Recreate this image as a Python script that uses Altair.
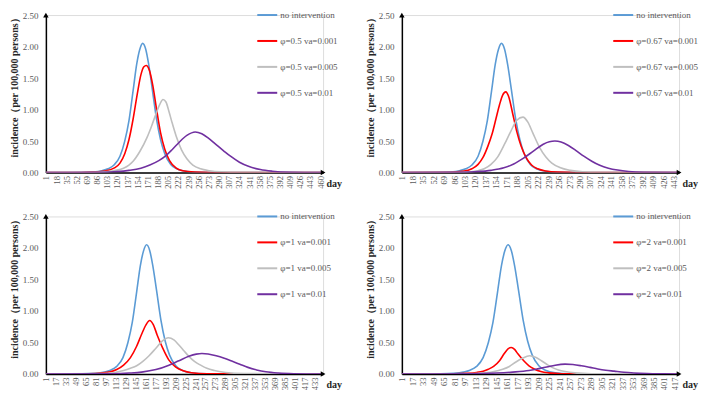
import altair as alt
import pandas as pd

# ---------------- data ----------------
# shared "no intervention" curve
blue_days = [1, 40, 60, 80, 95, 105, 115, 125, 133, 140, 147, 153, 158, 163, 168, 173, 179, 186, 193, 200, 210, 220, 235, 260, 300, 470]
blue_vals = [0, 0.0005, 0.002, 0.01, 0.03, 0.06, 0.12, 0.26, 0.5, 0.82, 1.3, 1.72, 1.95, 2.05, 1.96, 1.72, 1.33, 0.86, 0.52, 0.3, 0.13, 0.06, 0.02, 0.004, 0, 0]

# panel 1: phi = 0.5
p1_red_days = [1, 60, 80, 100, 115, 125, 133, 140, 147, 154, 160, 165, 169, 174, 180, 186, 193, 200, 208, 218, 230, 250, 280, 470]
p1_red_vals = [0, 0.002, 0.008, 0.025, 0.07, 0.15, 0.3, 0.52, 0.85, 1.25, 1.55, 1.68, 1.70, 1.63, 1.38, 1.02, 0.63, 0.37, 0.19, 0.08, 0.03, 0.008, 0.001, 0]
p1_gray_days = [1, 80, 104, 118, 131, 140, 147, 158, 170, 178, 186, 192, 197, 202, 207, 212, 219, 228, 237, 247, 260, 275, 295, 330, 470]
p1_gray_vals = [0, 0.003, 0.015, 0.035, 0.07, 0.12, 0.18, 0.33, 0.55, 0.74, 0.95, 1.09, 1.16, 1.12, 0.97, 0.8, 0.58, 0.36, 0.22, 0.12, 0.06, 0.03, 0.012, 0.003, 0]
p1_purple_days = [1, 100, 120, 140, 160, 175, 190, 202, 213, 225, 237, 251, 262, 273, 285, 298, 310, 325, 340, 360, 380, 410, 470]
p1_purple_vals = [0, 0.005, 0.015, 0.035, 0.07, 0.12, 0.19, 0.27, 0.37, 0.49, 0.59, 0.645, 0.615, 0.545, 0.45, 0.35, 0.26, 0.165, 0.1, 0.048, 0.022, 0.006, 0]

# panel 2: phi = 0.67
p2_red_days = [1, 80, 100, 115, 125, 133, 141, 148, 154, 160, 165, 170, 175, 181, 188, 195, 203, 212, 222, 235, 255, 290, 460]
p2_red_vals = [0, 0.006, 0.02, 0.06, 0.13, 0.24, 0.42, 0.62, 0.85, 1.08, 1.23, 1.28, 1.2, 0.95, 0.65, 0.42, 0.24, 0.12, 0.06, 0.025, 0.007, 0.001, 0]
p2_gray_days = [1, 90, 110, 125, 135, 146, 157, 168, 178, 188, 198, 206, 214, 225, 235, 245, 258, 275, 295, 330, 460]
p2_gray_vals = [0, 0.003, 0.012, 0.03, 0.06, 0.13, 0.25, 0.45, 0.65, 0.83, 0.88, 0.80, 0.63, 0.40, 0.25, 0.15, 0.08, 0.035, 0.012, 0.002, 0]
p2_purple_days = [1, 100, 124, 146, 167, 183, 199, 215, 231, 241, 250, 260, 272, 285, 297, 310, 323, 337, 352, 370, 395, 460]
p2_purple_vals = [0, 0.006, 0.015, 0.035, 0.075, 0.135, 0.23, 0.34, 0.45, 0.49, 0.50, 0.485, 0.43, 0.345, 0.26, 0.18, 0.115, 0.07, 0.04, 0.018, 0.006, 0]

# panel 3: phi = 1
p3_red_days = [1, 70, 90, 105, 115, 126, 137, 147, 155, 162, 168, 174, 180, 189, 199, 210, 222, 235, 260, 450]
p3_red_vals = [0, 0.005, 0.015, 0.035, 0.07, 0.14, 0.26, 0.44, 0.63, 0.78, 0.85, 0.78, 0.62, 0.41, 0.22, 0.11, 0.05, 0.02, 0.004, 0]
p3_gray_days = [1, 90, 110, 126, 137, 147, 157, 167, 178, 188, 198, 207, 215, 223, 231, 240, 250, 260, 272, 290, 320, 450]
p3_gray_vals = [0, 0.006, 0.02, 0.055, 0.09, 0.13, 0.2, 0.29, 0.41, 0.52, 0.575, 0.54, 0.46, 0.37, 0.28, 0.2, 0.14, 0.09, 0.055, 0.025, 0.007, 0]
p3_purple_days = [1, 110, 135, 155, 178, 199, 215, 231, 243, 252, 262, 275, 288, 300, 313, 326, 340, 355, 375, 400, 450]
p3_purple_vals = [0, 0.005, 0.015, 0.03, 0.07, 0.14, 0.21, 0.28, 0.315, 0.325, 0.318, 0.29, 0.25, 0.205, 0.155, 0.105, 0.065, 0.035, 0.015, 0.005, 0]

# panel 4: phi = 2
p4_red_days = [1, 80, 100, 115, 125, 133, 141, 150, 157, 163, 168, 173, 178, 187, 195, 203, 213, 225, 245, 430]
p4_red_vals = [0, 0.003, 0.01, 0.025, 0.045, 0.075, 0.12, 0.21, 0.32, 0.40, 0.42, 0.39, 0.32, 0.21, 0.13, 0.08, 0.04, 0.018, 0.005, 0]
p4_gray_days = [1, 100, 120, 140, 155, 165, 175, 185, 196, 205, 214, 222, 230, 240, 250, 265, 290, 430]
p4_gray_vals = [0, 0.004, 0.012, 0.035, 0.075, 0.12, 0.19, 0.25, 0.29, 0.265, 0.21, 0.155, 0.105, 0.065, 0.04, 0.018, 0.005, 0]
p4_purple_days = [1, 110, 145, 170, 195, 210, 222, 235, 250, 262, 275, 288, 300, 312, 325, 340, 355, 375, 400, 430]
p4_purple_vals = [0, 0.004, 0.015, 0.03, 0.055, 0.085, 0.11, 0.14, 0.157, 0.15, 0.13, 0.105, 0.08, 0.06, 0.045, 0.028, 0.017, 0.008, 0.003, 0]

phis = ["0.5", "0.67", "1", "2"]
va_levels = ["0.001", "0.005", "0.01"]
x_max = [465, 452, 447, 424]
tick_step = [17, 17, 16, 16]
tick_last = [460, 443, 433, 417]
y_ticks = [0, 0.5, 1.0, 1.5, 2.0, 2.5]

colors = ["#5B9BD5", "#FF0000", "#BFBFBF", "#7030A0"]

panel_series = [
    [(p1_red_days, p1_red_vals), (p1_gray_days, p1_gray_vals), (p1_purple_days, p1_purple_vals)],
    [(p2_red_days, p2_red_vals), (p2_gray_days, p2_gray_vals), (p2_purple_days, p2_purple_vals)],
    [(p3_red_days, p3_red_vals), (p3_gray_days, p3_gray_vals), (p3_purple_days, p3_purple_vals)],
    [(p4_red_days, p4_red_vals), (p4_gray_days, p4_gray_vals), (p4_purple_days, p4_purple_vals)],
]

# ---------------- chart ----------------
W, H = 278, 158
FONT = "Liberation Serif"
GRAY_TXT = "#595959"


def make_panel(i):
    labels = ["no intervention"] + [f"φ={phis[i]} va={v}" for v in va_levels]
    series = [(blue_days, blue_vals)] + panel_series[i]
    rows = []
    for lab, (days, vals) in zip(labels, series):
        for d, v in zip(days, vals):
            rows.append({"day": d, "val": v, "series": lab})
    df = pd.DataFrame(rows)
    ticks = list(range(1, tick_last[i] + 1, tick_step[i]))

    xs = alt.Scale(domain=[1, x_max[i]], nice=False, zero=False)
    ys = alt.Scale(domain=[0, 2.5], nice=False, zero=True)
    x_axis = alt.Axis(
        values=ticks, labelAngle=-90, labelFontSize=8.5, labelFont=FONT, labelColor=GRAY_TXT,
        labelPadding=3, labelOverlap=False, labelFlush=False, ticks=False, grid=False,
        domainColor="black", domainWidth=1.5,
        title="day", titleFont=FONT, titleFontSize=10, titleFontWeight="bold", titleColor="#262626",
        titleAngle=0, titleAlign="left", titleBaseline="middle", titleX=W + 3, titleY=11)
    y_axis = alt.Axis(
        values=y_ticks, format=".2f", labelFontSize=9, labelFont=FONT, labelColor=GRAY_TXT,
        labelPadding=8, labelOverlap=False, labelFlush=False, ticks=False, grid=False,
        domainColor="black", domainWidth=1.5,
        title="incidence（per 100,000 persons）", titleFont=FONT, titleFontSize=10,
        titleFontWeight="bold", titleColor="#262626", titlePadding=3, titleY=H / 2 - 9)

    lines = alt.Chart(df).mark_line(strokeWidth=1.6, interpolate="monotone", clip=True).encode(
        x=alt.X("day:Q", scale=xs, axis=x_axis),
        y=alt.Y("val:Q", scale=ys, axis=y_axis),
        color=alt.Color("series:N", sort=labels, scale=alt.Scale(domain=labels, range=colors),
                        legend=alt.Legend(orient="none", legendX=W - 67, legendY=-11, title=None,
                                          symbolType="stroke", symbolSize=400, symbolStrokeWidth=2,
                                          labelFont=FONT, labelFontSize=9, labelColor=GRAY_TXT,
                                          rowPadding=10, padding=0, labelOffset=2)),
    )

    arrows_df = pd.DataFrame({"day": [1, x_max[i]], "val": [2.5, 0],
                              "shape": ["triangle-up", "triangle-right"]})
    arrows = alt.Chart(arrows_df).mark_point(filled=True, color="black", size=30, opacity=1).encode(
        x=alt.X("day:Q", scale=xs, axis=x_axis),
        y=alt.Y("val:Q", scale=ys, axis=y_axis),
        shape=alt.Shape("shape:N", scale=None),
    )
    return alt.layer(lines, arrows).properties(width=W, height=H)


chart = alt.concat(
    *[make_panel(i) for i in range(4)],
    columns=2,
    spacing={"row": 44, "column": 79},
    bounds="flush",
).resolve_scale(color="independent", x="independent", y="independent").properties(
    padding={"left": 0, "top": -5.5, "right": 0, "bottom": 0}
).configure_view(stroke=None).configure(font=FONT)

chart.save("out.html", embed_options={"renderer": "svg", "actions": False})
